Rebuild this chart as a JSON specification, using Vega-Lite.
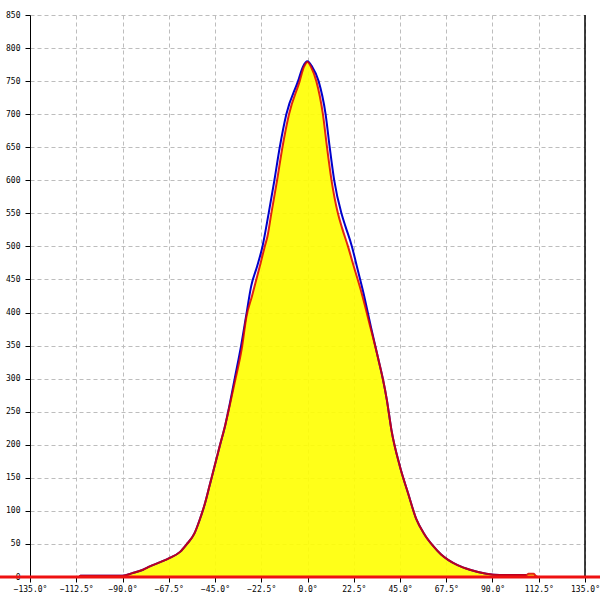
{
  "$schema": "https://vega.github.io/schema/vega-lite/v6.json",
  "width": 555,
  "height": 562,
  "autosize": "none",
  "padding": {"left": 30, "top": 15, "right": 15, "bottom": 23},
  "background": "white",
  "config": {
    "view": {"stroke": null},
    "axis": {
      "labelFont": "DejaVu Sans Mono",
      "labelFontSize": 8,
      "labelColor": "#000000",
      "domainColor": "#000000",
      "tickColor": "#000000",
      "tickSize": 5,
      "gridColor": "#bdbdbd",
      "gridDash": [4, 3],
      "gridWidth": 1,
      "labelOverlap": false,
      "labelFlush": false,
      "labelBound": false,
      "title": null
    }
  },
  "datasets": {
    "curves": [
      {"deg": -135, "value": 0, "series": "red"},
      {"deg": -111, "value": 0, "series": "red"},
      {"deg": -110.5, "value": 2, "series": "red"},
      {"deg": -100, "value": 2, "series": "red"},
      {"deg": -90, "value": 2, "series": "red"},
      {"deg": -85, "value": 6, "series": "red"},
      {"deg": -80, "value": 11, "series": "red"},
      {"deg": -76.7, "value": 16, "series": "red"},
      {"deg": -72, "value": 22, "series": "red"},
      {"deg": -67, "value": 29, "series": "red"},
      {"deg": -62, "value": 38, "series": "red"},
      {"deg": -58.9, "value": 49, "series": "red"},
      {"deg": -55, "value": 66, "series": "red"},
      {"deg": -52.4, "value": 87, "series": "red"},
      {"deg": -50, "value": 110, "series": "red"},
      {"deg": -47.5, "value": 140, "series": "red"},
      {"deg": -45, "value": 170, "series": "red"},
      {"deg": -42.7, "value": 198, "series": "red"},
      {"deg": -40, "value": 230, "series": "red"},
      {"deg": -37.8, "value": 260, "series": "red"},
      {"deg": -35, "value": 300, "series": "red"},
      {"deg": -32, "value": 345, "series": "red"},
      {"deg": -29.7, "value": 394, "series": "red"},
      {"deg": -27, "value": 425, "series": "red"},
      {"deg": -24.9, "value": 450, "series": "red"},
      {"deg": -22.8, "value": 475, "series": "red"},
      {"deg": -20.8, "value": 500, "series": "red"},
      {"deg": -19.5, "value": 515, "series": "red"},
      {"deg": -17.6, "value": 550, "series": "red"},
      {"deg": -14.8, "value": 600, "series": "red"},
      {"deg": -12.2, "value": 650, "series": "red"},
      {"deg": -9.0, "value": 700, "series": "red"},
      {"deg": -3.8, "value": 750, "series": "red"},
      {"deg": -1.8, "value": 771, "series": "red"},
      {"deg": 0, "value": 779, "series": "red"},
      {"deg": 1.8, "value": 771, "series": "red"},
      {"deg": 4.3, "value": 750, "series": "red"},
      {"deg": 7.5, "value": 700, "series": "red"},
      {"deg": 9.5, "value": 650, "series": "red"},
      {"deg": 11.7, "value": 600, "series": "red"},
      {"deg": 14.8, "value": 550, "series": "red"},
      {"deg": 16.8, "value": 528, "series": "red"},
      {"deg": 19.7, "value": 500, "series": "red"},
      {"deg": 22.5, "value": 470, "series": "red"},
      {"deg": 26.3, "value": 430, "series": "red"},
      {"deg": 30.5, "value": 379, "series": "red"},
      {"deg": 34.5, "value": 329, "series": "red"},
      {"deg": 36.7, "value": 299, "series": "red"},
      {"deg": 38.6, "value": 268, "series": "red"},
      {"deg": 40.8, "value": 223, "series": "red"},
      {"deg": 44.9, "value": 168, "series": "red"},
      {"deg": 48.9, "value": 127, "series": "red"},
      {"deg": 53, "value": 87, "series": "red"},
      {"deg": 57, "value": 64, "series": "red"},
      {"deg": 61.1, "value": 47, "series": "red"},
      {"deg": 65, "value": 34, "series": "red"},
      {"deg": 68.4, "value": 26, "series": "red"},
      {"deg": 73, "value": 18, "series": "red"},
      {"deg": 79, "value": 11, "series": "red"},
      {"deg": 87, "value": 5, "series": "red"},
      {"deg": 93.4, "value": 3, "series": "red"},
      {"deg": 100, "value": 3, "series": "red"},
      {"deg": 106.5, "value": 3, "series": "red"},
      {"deg": 107.5, "value": 5, "series": "red"},
      {"deg": 110, "value": 5, "series": "red"},
      {"deg": 111, "value": 2, "series": "red"},
      {"deg": 112, "value": 0, "series": "red"},
      {"deg": 135, "value": 0, "series": "red"},

      {"deg": -111, "value": 0, "series": "blue"},
      {"deg": -110.5, "value": 2, "series": "blue"},
      {"deg": -100, "value": 2, "series": "blue"},
      {"deg": -90, "value": 2, "series": "blue"},
      {"deg": -85, "value": 6, "series": "blue"},
      {"deg": -80, "value": 11, "series": "blue"},
      {"deg": -76.7, "value": 16, "series": "blue"},
      {"deg": -72, "value": 22, "series": "blue"},
      {"deg": -67, "value": 29, "series": "blue"},
      {"deg": -62, "value": 38, "series": "blue"},
      {"deg": -58.9, "value": 49, "series": "blue"},
      {"deg": -55, "value": 66, "series": "blue"},
      {"deg": -52.4, "value": 87, "series": "blue"},
      {"deg": -50, "value": 110, "series": "blue"},
      {"deg": -47.5, "value": 140, "series": "blue"},
      {"deg": -45, "value": 170, "series": "blue"},
      {"deg": -42.7, "value": 198, "series": "blue"},
      {"deg": -40, "value": 230, "series": "blue"},
      {"deg": -37.8, "value": 262, "series": "blue"},
      {"deg": -35.3, "value": 302, "series": "blue"},
      {"deg": -32.3, "value": 350, "series": "blue"},
      {"deg": -29.8, "value": 396, "series": "blue"},
      {"deg": -27.4, "value": 440, "series": "blue"},
      {"deg": -24.5, "value": 470, "series": "blue"},
      {"deg": -21.9, "value": 500, "series": "blue"},
      {"deg": -18.9, "value": 550, "series": "blue"},
      {"deg": -16.1, "value": 600, "series": "blue"},
      {"deg": -13.5, "value": 650, "series": "blue"},
      {"deg": -10.3, "value": 700, "series": "blue"},
      {"deg": -4.6, "value": 750, "series": "blue"},
      {"deg": -2.2, "value": 772, "series": "blue"},
      {"deg": 0, "value": 780, "series": "blue"},
      {"deg": 2.2, "value": 772, "series": "blue"},
      {"deg": 5.4, "value": 750, "series": "blue"},
      {"deg": 8.8, "value": 700, "series": "blue"},
      {"deg": 10.8, "value": 650, "series": "blue"},
      {"deg": 13, "value": 600, "series": "blue"},
      {"deg": 16.5, "value": 550, "series": "blue"},
      {"deg": 18.5, "value": 530, "series": "blue"},
      {"deg": 21.6, "value": 500, "series": "blue"},
      {"deg": 24, "value": 470, "series": "blue"},
      {"deg": 27.2, "value": 430, "series": "blue"},
      {"deg": 30.8, "value": 379, "series": "blue"},
      {"deg": 34.5, "value": 329, "series": "blue"},
      {"deg": 36.7, "value": 299, "series": "blue"},
      {"deg": 38.6, "value": 268, "series": "blue"},
      {"deg": 40.8, "value": 223, "series": "blue"},
      {"deg": 44.9, "value": 168, "series": "blue"},
      {"deg": 48.9, "value": 127, "series": "blue"},
      {"deg": 53, "value": 87, "series": "blue"},
      {"deg": 57, "value": 64, "series": "blue"},
      {"deg": 61.1, "value": 47, "series": "blue"},
      {"deg": 65, "value": 34, "series": "blue"},
      {"deg": 68.4, "value": 26, "series": "blue"},
      {"deg": 73, "value": 18, "series": "blue"},
      {"deg": 79, "value": 11, "series": "blue"},
      {"deg": 87, "value": 5, "series": "blue"},
      {"deg": 93.4, "value": 3, "series": "blue"},
      {"deg": 100, "value": 3, "series": "blue"},
      {"deg": 106.5, "value": 3, "series": "blue"}
    ],
    "border": [{"x": 135}],
    "zeroline": [{"x1": -150, "x2": 143, "y": 0}]
  },
  "layer": [
    {
      "data": {"name": "curves"},
      "transform": [{"filter": "datum.series == 'red'"}],
      "mark": {"type": "area", "color": "#ffff00", "fillOpacity": 0.9, "clip": true, "interpolate": "monotone"},
      "encoding": {
        "x": {
          "field": "deg", "type": "quantitative",
          "scale": {"domain": [-135.0001, 135.0001], "nice": false, "zero": false},
          "axis": {
            "values": [-135, -112.5, -90, -67.5, -45, -22.5, 0, 22.5, 45, 67.5, 90, 112.5, 135],
            "tickCount": 30,
            "labelExpr": "format(datum.value, '.1f') + '°'",
            "labelPadding": 3
          }
        },
        "y": {
          "field": "value", "type": "quantitative",
          "scale": {"domain": [0, 850.0001], "nice": false},
          "axis": {
            "values": [0, 50, 100, 150, 200, 250, 300, 350, 400, 450, 500, 550, 600, 650, 700, 750, 800, 850],
            "tickCount": 30,
            "labelPadding": 5
          }
        }
      }
    },
    {
      "data": {"name": "curves"},
      "transform": [{"filter": "datum.series == 'blue'"}],
      "mark": {"type": "line", "color": "#0000cc", "strokeWidth": 2, "interpolate": "monotone"},
      "encoding": {
        "x": {"field": "deg", "type": "quantitative"},
        "y": {"field": "value", "type": "quantitative"}
      }
    },
    {
      "data": {"name": "curves"},
      "transform": [{"filter": "datum.series == 'red'"}],
      "mark": {"type": "line", "color": "#dd0000", "strokeWidth": 2, "opacity": 0.85, "interpolate": "monotone"},
      "encoding": {
        "x": {"field": "deg", "type": "quantitative"},
        "y": {"field": "value", "type": "quantitative"}
      }
    },
    {
      "data": {"name": "border"},
      "mark": {"type": "rule", "color": "#000000", "strokeWidth": 1.5},
      "encoding": {
        "x": {"field": "x", "type": "quantitative"}
      }
    },
    {
      "data": {"name": "zeroline"},
      "mark": {"type": "rule", "color": "#ee1111", "strokeWidth": 3, "clip": false},
      "encoding": {
        "x": {"field": "x1", "type": "quantitative"},
        "x2": {"field": "x2"},
        "y": {"field": "y", "type": "quantitative"}
      }
    }
  ]
}
